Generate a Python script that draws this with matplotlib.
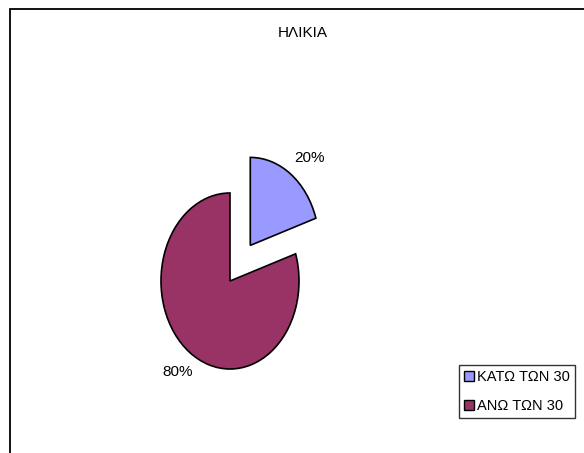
import matplotlib
matplotlib.use("Agg")
import matplotlib.pyplot as plt
from matplotlib.patches import Patch, Rectangle
from matplotlib.transforms import ScaledTranslation

title = "ΗΛΙΚΙΑ"
categories = ["ΚΑΤΩ ΤΩΝ 30", "ΑΝΩ ΤΩΝ 30"]
values = [20, 80]
colors = ["#9999FF", "#993366"]

plt.rcParams['font.family'] = ['Liberation Sans', 'DejaVu Sans']

W, H = 584, 453
fig = plt.figure(figsize=(W / 100, H / 100), dpi=100)
fig.patch.set_facecolor("white")

# chart frame
fig.patches.append(Rectangle((9.5 / W, -0.1), 1.2, (H - 9.5) / H + 0.1,
                             transform=fig.transFigure, fill=False,
                             edgecolor="black", linewidth=1.3))

ax = fig.add_axes([0, 0, 1, 1])
ax.set_axis_off()
cx, cy = 230, H - 281
rx, ry = 69, 88

wedges, texts, autotexts = ax.pie(
    values, colors=colors, startangle=90, counterclock=False,
    explode=[0.5, 0], autopct="%1.0f%%", pctdistance=1.28,
    wedgeprops=dict(edgecolor="black", linewidth=1.2),
    textprops=dict(fontsize=11, color="black"))
ax.set_aspect("auto")
ax.set_xlim(-cx / rx, (W - cx) / rx)
ax.set_ylim(-cy / ry, (H - cy) / ry)
# small nudge of the first label
autotexts[0].set_transform(ax.transData + ScaledTranslation(0.07, -0.04, fig.dpi_scale_trans))

fig.text(303 / W, 1 - 33 / H, title, ha="center", va="center", fontsize=11)

handles = [Patch(facecolor=c, edgecolor="black", linewidth=1.0) for c in colors]
leg = fig.legend(handles, categories, loc="lower left",
                 bbox_to_anchor=(459 / W, (H - 418) / H),
                 fontsize=10.5, frameon=True, fancybox=False,
                 handlelength=0.7, handleheight=0.7, handletextpad=0.2,
                 borderpad=0.35, labelspacing=1.0, borderaxespad=0)
leg.get_frame().set_edgecolor("black")
leg.get_frame().set_linewidth(1.0)

fig.savefig("out.png", dpi=100)
